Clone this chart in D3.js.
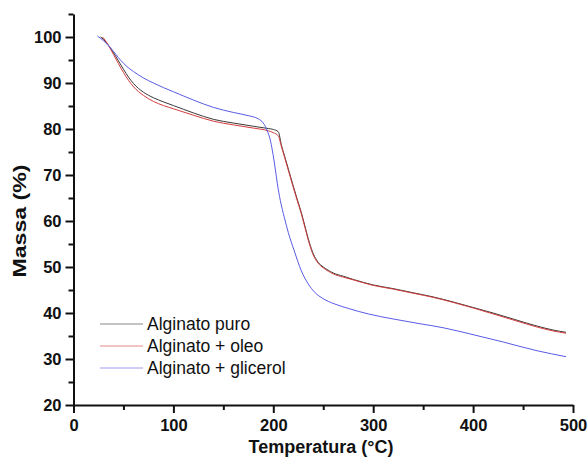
<!DOCTYPE html>
<html>
<head>
<meta charset="utf-8">
<script src="https://cdn.jsdelivr.net/npm/d3@7"></script>
<style>
    body { margin: 0; background: #fff; }
    svg { display: block; font-family: "Liberation Sans", Arial, sans-serif; }
</style>
</head>
<body>
<div id="chart"></div>
<script>
"use strict";

// Alginato puro
const tempPuro = [27, 30, 35, 40, 45, 50, 55, 60, 70, 80, 90, 100, 120, 140, 160, 180, 195, 200, 205, 208, 212, 216, 220, 224, 228, 232, 236, 240, 245, 250, 255, 260, 270, 280, 300, 320, 340, 360, 380, 400, 420, 440, 460, 480, 493];
const massaPuro = [100, 99.5, 98.2, 96.6, 94.8, 93, 91.3, 89.9, 88, 86.8, 85.9, 85.1, 83.5, 82.1, 81.3, 80.6, 80.1, 79.9, 79.4, 76.6, 73.6, 70.6, 67.6, 64.7, 61.9, 58.6, 55.4, 52.9, 51, 50, 49.3, 48.7, 48, 47.3, 46.1, 45.3, 44.4, 43.5, 42.4, 41.2, 40, 38.7, 37.4, 36.3, 35.8];

// Alginato + oleo
const tempOleo = [29, 32, 36, 40, 45, 50, 55, 60, 70, 80, 90, 100, 120, 140, 160, 180, 195, 200, 205, 208, 212, 216, 220, 224, 228, 232, 236, 240, 245, 250, 255, 260, 270, 280, 300, 320, 340, 360, 380, 400, 420, 440, 460, 480, 493];
const massaOleo = [100, 99.2, 97.8, 96.2, 94.2, 92.3, 90.6, 89.2, 87.3, 86, 85.1, 84.4, 83, 81.7, 80.9, 80.2, 79.6, 79.2, 78.5, 76.3, 73.3, 70.3, 67.3, 64.4, 61.6, 58.3, 55.1, 52.6, 50.8, 49.8, 49.1, 48.5, 47.8, 47.2, 46, 45.2, 44.3, 43.4, 42.3, 41.1, 39.8, 38.5, 37.2, 36.1, 35.6];

// Alginato + glicerol
const tempGlicerol = [24, 30, 36, 40, 45, 50, 55, 60, 70, 80, 90, 100, 120, 140, 160, 175, 185, 190, 194, 197, 199, 202, 204, 207, 211, 215, 221, 228, 235, 241, 250, 261, 275, 295, 320, 346, 370, 396, 430, 464, 493];
const massaGlicerol = [100.2, 99.2, 97.9, 96.9, 95.5, 94.3, 93.3, 92.5, 91.1, 90, 89, 88.1, 86.3, 84.7, 83.6, 82.9, 82.2, 81.3, 79.6, 77.6, 75.4, 71.3, 68.2, 64.5, 60.8, 57.5, 53.5, 49.2, 46.3, 44.6, 43.1, 42, 41, 39.8, 38.7, 37.7, 36.8, 35.5, 33.7, 31.8, 30.5];

const seriesNames = ["Alginato puro", "Alginato + oleo", "Alginato + glicerol"];
const seriesColors = ["#3a3a3a", "#d43c3c", "#5a5ae6"];

const xTicks = [0, 100, 200, 300, 400, 500];
const xMinorTicks = [50, 150, 250, 350, 450];
const yTicks = [20, 30, 40, 50, 60, 70, 80, 90, 100];
const yMinorTicks = [25, 35, 45, 55, 65, 75, 85, 95, 105];

(function () {
    const width = 588;
    const height = 466;

    const x = d3.scaleLinear().domain([0, 500]).range([73.5, 573]);
    const y = d3.scaleLinear().domain([20, 105]).range([405, 14]);

    const svg = d3.select("#chart")
        .append("svg")
        .attr("width", width)
        .attr("height", height);

    // axes
    svg.append("g")
        .attr("transform", `translate(0, ${y(20)})`)
        .call(d3.axisBottom(x).tickValues(xTicks).tickSize(8).tickSizeOuter(0).tickPadding(6));

    svg.append("g")
        .attr("transform", `translate(0, ${y(20)})`)
        .call(d3.axisBottom(x).tickValues(xMinorTicks).tickSize(5).tickSizeOuter(0).tickFormat(""))
        .select(".domain").remove();

    svg.append("g")
        .attr("transform", `translate(${x(0)}, 0)`)
        .call(d3.axisLeft(y).tickValues(yTicks).tickSize(8).tickSizeOuter(0).tickPadding(4));

    svg.append("g")
        .attr("transform", `translate(${x(0)}, 0)`)
        .call(d3.axisLeft(y).tickValues(yMinorTicks).tickSize(5).tickSizeOuter(0).tickFormat(""))
        .select(".domain").remove();

    svg.selectAll(".domain, .tick line")
        .attr("stroke", "#111")
        .attr("stroke-width", 2);

    svg.selectAll(".tick text")
        .attr("font-size", 16.5)
        .attr("font-weight", "bold")
        .attr("fill", "#111");

    // axis titles
    svg.append("text")
        .attr("x", 321)
        .attr("y", 453)
        .attr("text-anchor", "middle")
        .attr("font-size", 18)
        .attr("font-weight", "bold")
        .attr("fill", "#111")
        .text("Temperatura (°C)");

    svg.append("text")
        .attr("transform", `translate(26, ${y(60)}) rotate(-90)`)
        .attr("text-anchor", "middle")
        .attr("font-size", 18)
        .attr("font-weight", "bold")
        .attr("fill", "#111")
        .attr("textLength", 113)
        .attr("lengthAdjust", "spacingAndGlyphs")
        .text("Massa (%)");

    // curves
    const series = [
        d3.zip(tempPuro, massaPuro),
        d3.zip(tempOleo, massaOleo),
        d3.zip(tempGlicerol, massaGlicerol)
    ];

    const line = d3.line()
        .x(d => x(d[0]))
        .y(d => y(d[1]))
        .curve(d3.curveMonotoneX);

    svg.append("g")
        .selectAll("path")
        .data(series)
        .enter()
        .append("path")
        .attr("d", line)
        .attr("fill", "none")
        .attr("stroke", (d, i) => seriesColors[i])
        .attr("stroke-width", 1);

    // legend
    const legend = svg.append("g")
        .selectAll("g")
        .data(seriesNames)
        .enter()
        .append("g")
        .attr("transform", (d, i) => `translate(100, ${324 + i * 22})`);

    legend.append("line")
        .attr("x1", 0)
        .attr("x2", 43)
        .attr("stroke", (d, i) => seriesColors[i])
        .attr("stroke-width", 1)
        .attr("stroke-opacity", 0.6);

    legend.append("text")
        .attr("x", 47)
        .attr("y", 6)
        .attr("font-size", 17.5)
        .attr("fill", "#111")
        .text(d => d);
})();
</script>
</body>
</html>
